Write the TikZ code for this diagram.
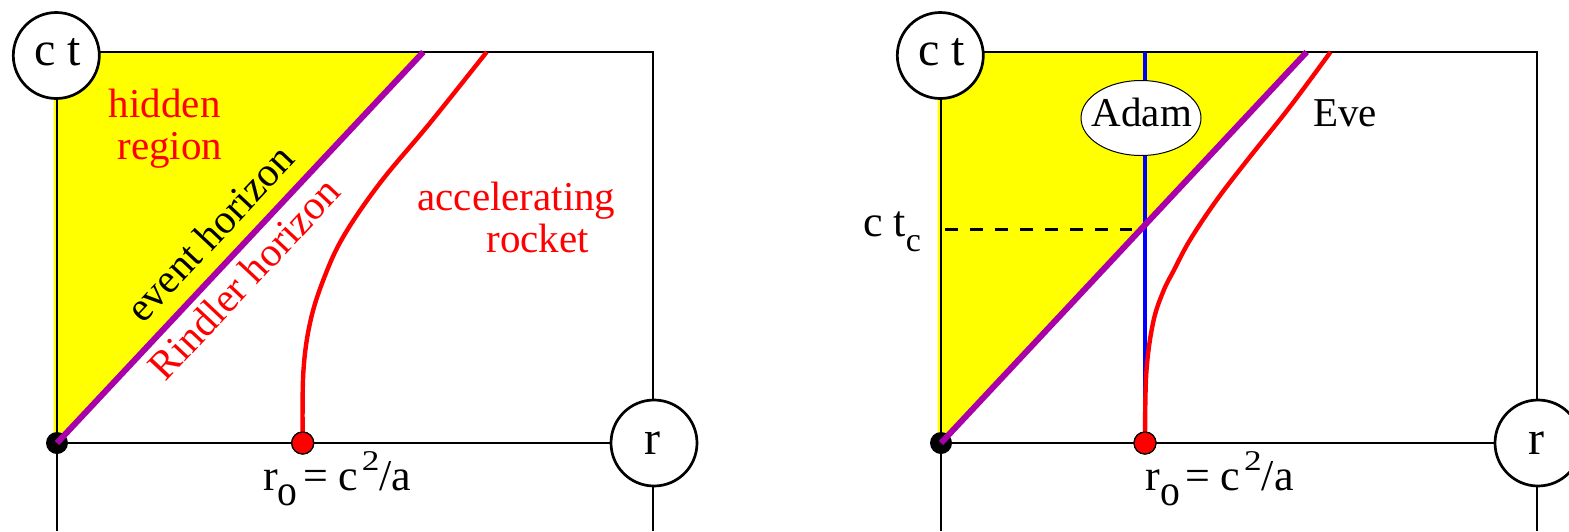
\documentclass[tikz,border=0pt]{standalone}
\usepackage{fontspec}
\setmainfont{Liberation Serif}
\usepackage{graphicx}
\usetikzlibrary{shapes.geometric}
\definecolor{hpurple}{RGB}{170,0,170}
\definecolor{hyellow}{RGB}{255,255,0}
\begin{document}
\begin{tikzpicture}[x=0.5pt,y=-0.5pt,
  frame/.style={line width=1.3pt, draw=black},
  lbl/.style={inner sep=0pt, font=\fontsize{20.5}{24}\selectfont},
  biglbl/.style={inner sep=0pt, font=\fontsize{22}{26}\selectfont},
  axlbl/.style={inner sep=0pt, font=\fontsize{24}{28}\selectfont},
  axcirc/.style={circle, draw=black, fill=white, line width=1.35pt, minimum size=43pt, inner sep=0pt},
  horiz/.style={line width=3pt, draw=hpurple},
  rocket/.style={line width=2.2pt, draw=red},
  adamline/.style={line width=2pt, draw=blue},
  rdot/.style={circle, fill=red, draw=black, line width=0.6pt, minimum size=11pt, inner sep=0pt},
  odot/.style={circle, fill=black, minimum size=11pt, inner sep=0pt},
  adamell/.style={ellipse, draw=black, fill=white, line width=0.5pt, minimum width=60pt, minimum height=37.5pt, inner sep=0pt},
  tcline/.style={line width=1.5pt, draw=black, dash pattern=on 6.5pt off 6pt}
]
\useasboundingbox (0,0) rectangle (1569,531);
\clip (0,0) rectangle (1569,531);

% ---------------- left panel ----------------
\coordinate (Lo) at (57,443);
\coordinate (Ltl) at (57,52);
\coordinate (Ltr) at (653,52);
\coordinate (Lbr) at (653,531);
\coordinate (Lbl) at (57,531);
\coordinate (Lax) at (653,443);
\coordinate (Lh) at (423.3,52);
\coordinate (Lys) at (53.5,52);
\coordinate (Lyb) at (53.5,443);

\fill[hyellow] (Lyb) -- (Lys) -- (Lh) -- (Lo) -- cycle;
\draw[frame] (Lbl) -- (Ltl) -- (Ltr) -- (Lbr);
\draw[frame] (Lo) -- (Lax);

\node[rdot] (Lrd) at (302.7,443) {};
\draw[rocket] plot[smooth, tension=0.6] coordinates {(Lrd.center) (303.3,373) (310,323) (323.3,280) (343.3,236.7) (380,183) (430,123) (486.7,52)};
\node[rdot] at (Lrd) {};
\node[odot] (Lod) at (Lo) {};
\draw[horiz] (Lod.center) -- (Lh);

\node[axcirc] (Lct) at (56.3,55.5) {};
\node[axlbl, anchor=base west] (Lctt) at (34,65) {c t};
\node[axcirc] (Lr) at (654,443) {};
\node[axlbl, anchor=base west] (Lrt) at (644.5,454) {r};

\node[lbl, red, anchor=base west] (Lhid) at (108.5,117) {hidden};
\node[lbl, red, anchor=base west] (Lreg) at (117,159) {region};
\node[lbl, red, anchor=base west] (Lacc) at (417,210) {accelerating};
\node[lbl, red, anchor=base west] (Lroc) at (486,252) {rocket};
\node[lbl, rotate=46.8] (Lev) at (210,233) {event horizon};
\node[lbl, red, rotate=46.8] (Lrin) at (244,278.6) {Rindler horizon};
\node[biglbl, anchor=base west] (Lro) at (262.7,490) {r\raisebox{-7.5pt}{\scalebox{0.9}[1]{o}}\hspace{3pt}=\hspace{5pt}c\hspace{2pt}\raisebox{10pt}{\scalebox{0.8}[0.65]{2}}/a};

% ---------------- right panel ----------------
\coordinate (Ro) at (941,443);
\coordinate (Rtl) at (941,52);
\coordinate (Rtr) at (1537,52);
\coordinate (Rbr) at (1537,531);
\coordinate (Rbl) at (941,531);
\coordinate (Rax) at (1537,443);
\coordinate (Rh) at (1306.7,52);
\coordinate (Rys) at (937.5,52);
\coordinate (Ryb) at (937.5,443);
\coordinate (Rbt) at (1145,52);
\coordinate (Rd1) at (945,229.3);
\coordinate (Rd2) at (1131.7,229.3);

\fill[hyellow] (Ryb) -- (Rys) -- (Rh) -- (Ro) -- cycle;
\draw[frame] (Rbl) -- (Rtl) -- (Rtr) -- (Rbr);
\draw[frame] (Ro) -- (Rax);

\node[rdot] (Rrd) at (1145,443) {};
\draw[adamline] (Rbt) -- (Rrd.center);
\draw[tcline] (Rd1) -- (Rd2);
\draw[rocket] plot[smooth, tension=0.6] coordinates {(Rrd.center) (1146.3,373) (1153,323) (1163,292) (1174,270) (1190,240) (1216.7,200) (1250,156.7) (1290,106.7) (1330.5,52)};
\node[rdot] at (Rrd) {};
\node[odot] (Rod) at (Ro) {};
\draw[horiz] (Rod.center) -- (Rh);

\node[adamell] (Radam) at (1141,118) {};
\node[lbl, anchor=base] (Radamt) at (1141.8,126.7) {Adam};
\node[lbl, anchor=base west] (Reve) at (1313,126.7) {Eve};

\node[axcirc] (Rct) at (940.3,55.5) {};
\node[axlbl, anchor=base west] (Rctt) at (918,65) {c t};
\node[axcirc] (Rr) at (1538,443) {};
\node[axlbl, anchor=base west] (Rrt) at (1528,454) {r};

\node[biglbl, anchor=base west] (Rtc) at (862.7,236.7) {c t\raisebox{-7.5pt}{\fontsize{17}{18}\selectfont c}};
\node[biglbl, anchor=base west] (Rro) at (1145,490) {r\raisebox{-7.5pt}{\scalebox{0.9}[1]{o}}\hspace{3pt}=\hspace{5pt}c\hspace{2pt}\raisebox{10pt}{\scalebox{0.8}[0.65]{2}}/a};
\end{tikzpicture}
\end{document}
